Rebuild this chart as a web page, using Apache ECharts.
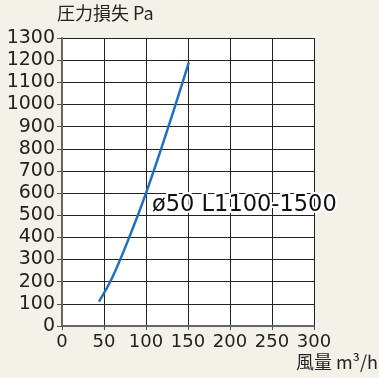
<!DOCTYPE html>
<html>
<head>
<meta charset="utf-8">
<script src="https://cdn.jsdelivr.net/npm/echarts@6/dist/echarts.min.js"></script>
<style>
  html, body { margin: 0; padding: 0; background: #f4f1e9; }
  #chart { width: 379px; height: 378px; }
</style>
</head>
<body>
<div id="chart"></div>
<script>
// Air flow (m³/h) vs. pressure loss (Pa)
const airflow = [44, 60, 80, 100, 125, 151];
const pressureLoss = [110, 220, 400, 600, 880, 1190];
const seriesLabel = 'ø50 L1100-1500';

const points = airflow.map((x, i) => [x, pressureLoss[i]]);
const font = 'DejaVu Sans, sans-serif';

const chart = echarts.init(document.getElementById('chart'), null, { renderer: 'canvas' });
chart.setOption({
  backgroundColor: '#f4f1e9',
  animation: false,
  grid: { left: 62, right: 65, top: 38, bottom: 52, backgroundColor: '#ffffff', show: true, borderWidth: 0 },
  xAxis: {
    type: 'value', min: 0, max: 300, interval: 50,
    axisLine: { show: true, lineStyle: { color: '#666', width: 2 } },
    axisTick: { show: true, inside: false, length: 4, lineStyle: { color: '#555' } },
    axisLabel: { color: '#222', fontFamily: font, fontSize: 18, margin: 7, formatter: v => String(v) },
    splitLine: { show: true, lineStyle: { color: '#222', width: 1 } }
  },
  yAxis: {
    type: 'value', min: 0, max: 1300, interval: 100,
    axisLine: { show: true, lineStyle: { color: '#666', width: 2 } },
    axisTick: { show: true, inside: false, length: 5, lineStyle: { color: '#555' } },
    axisLabel: { color: '#222', fontFamily: font, fontSize: 19, margin: 7, formatter: v => String(v) },
    splitLine: { show: true, lineStyle: { color: '#222', width: 1 } }
  },
  graphic: [
    { type: 'text', left: 57, top: 4, style: { text: '圧力損失 Pa', fill: '#222', font: '18px "Noto Sans CJK JP", sans-serif' } },
    { type: 'text', right: 1, top: 353, style: { text: '風量 m³/h', fill: '#222', font: '18px "Noto Sans CJK JP", sans-serif' } },
    { type: 'text', left: 150, top: 192, z: 100, style: { text: seriesLabel, fill: '#111', font: '500 22.5px DejaVu Sans, sans-serif', stroke: '#fff', lineWidth: 4 } }
  ],
  series: [{
    type: 'line',
    data: points,
    smooth: 0.4,
    symbol: 'none',
    lineStyle: { color: '#1f6fc2', width: 2.5 }
  }]
});
</script>
</body>
</html>
